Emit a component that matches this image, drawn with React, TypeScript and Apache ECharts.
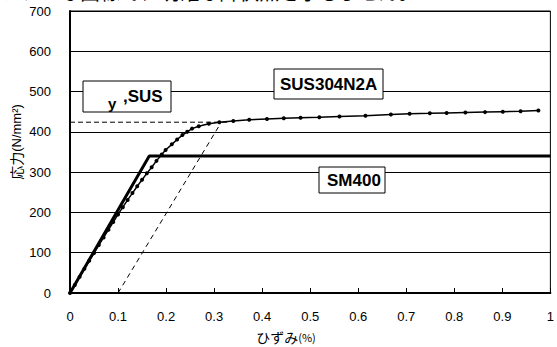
import React, { useEffect, useRef } from "react";
import * as echarts from "echarts";

const SM400_STRAIN = [0, 0.165, 1];
const SM400_STRESS = [0, 340, 340];

const SUS_STRAIN = [
  0, 0.01, 0.02, 0.03, 0.04, 0.05, 0.06, 0.07, 0.08, 0.09, 0.1, 0.11, 0.12, 0.13, 0.14,
  0.15, 0.16, 0.17, 0.18, 0.191, 0.199, 0.212, 0.223, 0.234, 0.244, 0.254, 0.268, 0.289,
  0.311, 0.34, 0.373, 0.41, 0.445, 0.48, 0.519, 0.561, 0.615, 0.668, 0.707, 0.749, 0.784,
  0.823, 0.864, 0.901, 0.938, 0.975,
];
const SUS_STRESS = [
  0, 20, 40, 60, 80, 99, 119, 138, 157, 176, 195, 213, 231, 248, 265,
  281, 297, 312, 328, 344, 355, 369, 381, 392, 400, 408, 414, 420,
  424, 427, 430, 432, 434, 435, 436, 438, 440, 443, 445, 446, 447,
  448, 449, 450, 451, 453,
];

const PROOF_LINE_STRAIN = [0, 0.33];
const PROOF_LINE_STRESS = [424, 424];
const OFFSET_LINE_STRAIN = [0.1, 0.313];
const OFFSET_LINE_STRESS = [0, 420];

const X_NAME = "ひずみ";
const X_UNIT = "(%)";
const Y_NAME = "応力";
const Y_UNIT = "(N/mm²)";
const LABEL_SUS = "SUS304N2A";
const LABEL_SM = "SM400";
const LABEL_PROOF_SUB = "y";
const LABEL_PROOF = ",SUS";
const TOP_TEXT = "ソフトな曲線で、明確な降伏点を示しません。";

const pairs = (xs: number[], ys: number[]) => xs.map((x, i) => [x, ys[i]]);

const NUM_FONT = "'Liberation Sans', Arial, sans-serif";
const CJK_FONT = "'Noto Sans CJK JP', sans-serif";

export default function App() {
  const ref = useRef<HTMLDivElement>(null);
  useEffect(() => {
    if (!ref.current) return;
    const chart = echarts.init(ref.current, null, { renderer: "svg" });
    const box = (x: number, y: number, w: number, h: number) => ({
      type: "rect",
      shape: { x, y, width: w, height: h },
      style: { fill: "#fff", stroke: "#000", lineWidth: 1 },
      z: 10,
    });
    const boldText = (text: string, x: number, y: number, size = 17) => ({
      type: "text",
      x,
      y,
      z: 11,
      style: {
        text,
        fill: "#000",
        font: `bold ${size}px ${NUM_FONT}`,
        align: "left",
        verticalAlign: "middle",
      },
    });
    chart.setOption({
      animation: false,
      backgroundColor: "#fff",
      grid: {
        left: 70,
        right: 2,
        top: 11,
        bottom: 54,
        show: true,
        borderColor: "#000",
        borderWidth: 1,
        backgroundColor: "transparent",
      },
      xAxis: {
        type: "value",
        min: 0,
        max: 1,
        interval: 0.1,
        axisLine: { show: true, lineStyle: { color: "#000", width: 2 } },
        axisTick: { show: true, inside: true, length: 5, lineStyle: { color: "#000" } },
        splitLine: { show: false },
        axisLabel: {
          color: "#000",
          fontSize: 13,
          fontFamily: NUM_FONT,
          margin: 17,
        },
      },
      yAxis: {
        type: "value",
        min: 0,
        max: 700,
        interval: 100,
        axisLine: { show: true, lineStyle: { color: "#000", width: 2 } },
        axisTick: { show: false },
        splitLine: { show: true, lineStyle: { color: "#000", width: 1 } },
        axisLabel: {
          color: "#000",
          fontSize: 13,
          fontFamily: NUM_FONT,
          margin: 19,
        },
      },
      series: [
        {
          type: "line",
          data: pairs(PROOF_LINE_STRAIN, PROOF_LINE_STRESS),
          symbol: "none",
          lineStyle: { color: "#000", width: 1, type: [5, 3] },
          z: 3,
        },
        {
          type: "line",
          data: pairs(OFFSET_LINE_STRAIN, OFFSET_LINE_STRESS),
          symbol: "none",
          lineStyle: { color: "#000", width: 1, type: [5, 4] },
          z: 3,
        },
        {
          type: "line",
          data: pairs(SM400_STRAIN, SM400_STRESS),
          symbol: "none",
          lineStyle: { color: "#000", width: 3 },
          z: 4,
        },
        {
          type: "line",
          data: pairs(SUS_STRAIN, SUS_STRESS),
          symbol: "circle",
          symbolSize: 4,
          showAllSymbol: true,
          itemStyle: { color: "#000" },
          lineStyle: { color: "#000", width: 1.5 },
          z: 5,
        },
      ],
      graphic: [
        {
          type: "text",
          x: 0,
          y: -19,
          style: { text: TOP_TEXT, fill: "#000", font: `20px ${CJK_FONT}` },
        },
        box(83, 81, 88, 31),
        boldText(LABEL_PROOF_SUB, 108, 103.5, 15),
        boldText(LABEL_PROOF, 123, 96),
        box(274, 69, 109, 30),
        boldText(LABEL_SUS, 280, 84),
        box(319, 167, 66, 26),
        boldText(LABEL_SM, 327, 180),
        {
          type: "text",
          x: 16,
          y: 142,
          rotation: Math.PI / 2,
          style: {
            text: `{a|${Y_NAME}}{b|${Y_UNIT}}`,
            align: "center",
            verticalAlign: "middle",
            rich: {
              a: { fontSize: 14, fontFamily: CJK_FONT, fill: "#000" },
              b: { fontSize: 13, fontFamily: NUM_FONT, fill: "#000" },
            },
          },
        },
        {
          type: "text",
          x: 286,
          y: 337,
          style: {
            text: `{a|${X_NAME}}{b|${X_UNIT}}`,
            align: "center",
            verticalAlign: "middle",
            rich: {
              a: { fontSize: 14, fontFamily: CJK_FONT, fill: "#000" },
              b: { fontSize: 11, fontFamily: CJK_FONT, fill: "#000" },
            },
          },
        },
      ],
    });
    return () => chart.dispose();
  }, []);
  return (
    <div
      ref={ref}
      style={{ position: "absolute", left: 0, top: 0, width: 557, height: 347 }}
    />
  );
}
